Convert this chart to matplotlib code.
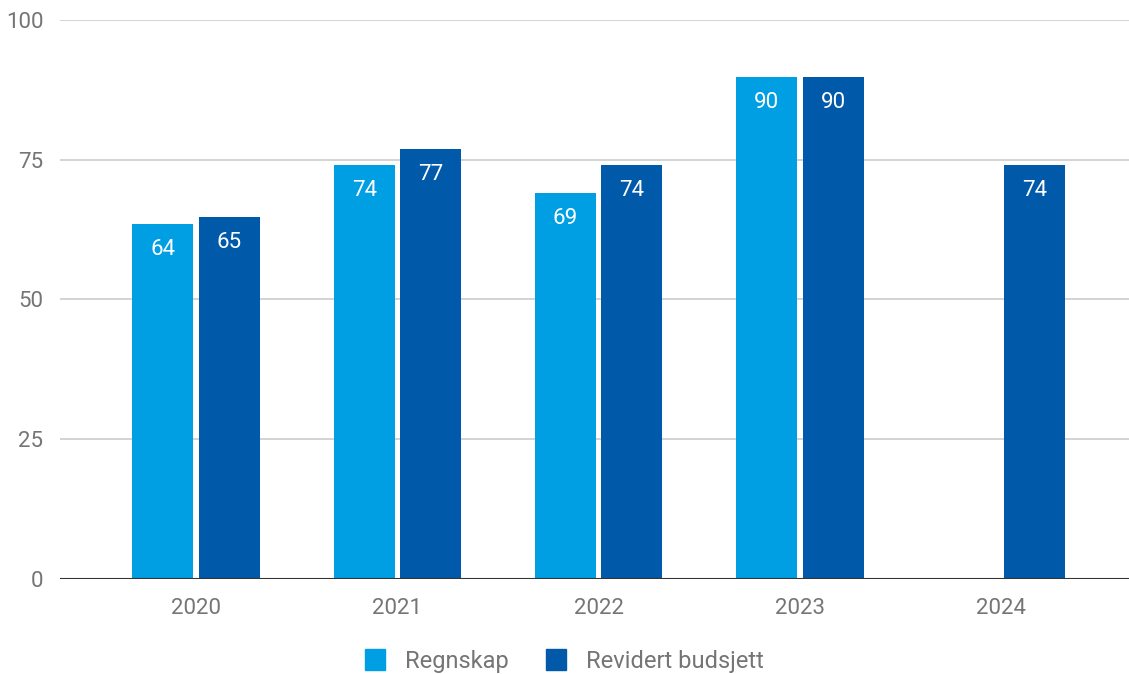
import numpy as np
import matplotlib.pyplot as plt
from matplotlib.patches import Patch

plt.rcParams["font.family"] = ["Roboto", "DejaVu Sans"]

years = ["2020", "2021", "2022", "2023", "2024"]
regnskap = [63.5, 74.1, 69.1, 89.8, np.nan]
revidert = [64.8, 76.9, 74.1, 89.8, 74.1]
yticks = [0, 25, 50, 75, 100]

C_LIGHT = "#009FE3"
C_DARK = "#005AA9"
GRAY = "#757575"

fig = plt.figure(figsize=(11.29, 6.74), dpi=100)
ax = fig.add_axes([60 / 1129, 1 - 579 / 674, 1069 / 1129, 559 / 674])

x = np.arange(len(years))
w = 0.303
off = 0.165

b1 = ax.bar(x - off, regnskap, width=w, color=C_LIGHT, zorder=3)
b2 = ax.bar(x + off, revidert, width=w, color=C_DARK, zorder=3)

for bars, vals in ((b1, regnskap), (b2, revidert)):
    for rect, v in zip(bars, vals):
        if np.isnan(v):
            continue
        ax.text(rect.get_x() + rect.get_width() / 2, v - 4.6, f"{v:.0f}",
                ha="center", va="center", color="white", fontsize=16, zorder=4)

ax.set_xlim(-0.676, 4.635)
ax.set_ylim(0, 100)
ax.set_yticks(yticks)
ax.set_xticks(x)
ax.set_xticklabels(years)
ax.yaxis.grid(True, color="#cccccc", linewidth=1.2, zorder=0)
ax.axhline(0, color="#333333", linewidth=1.5, zorder=5)
for s in ax.spines.values():
    s.set_visible(False)
ax.tick_params(length=0, labelsize=16, labelcolor=GRAY)
ax.tick_params(axis="y", pad=12)
ax.tick_params(axis="x", pad=14)

handles = [Patch(color=C_LIGHT, label="Regnskap"),
           Patch(color=C_DARK, label="Revidert budsjett")]
fig.legend(handles=handles, loc="center", bbox_to_anchor=(0.5, 1 - 661 / 674),
           ncol=2, frameon=False, fontsize=17, labelcolor=GRAY,
           handlelength=0.85, handleheight=1.0, columnspacing=1.6, handletextpad=0.85)

fig.savefig("out.png", dpi=100)
